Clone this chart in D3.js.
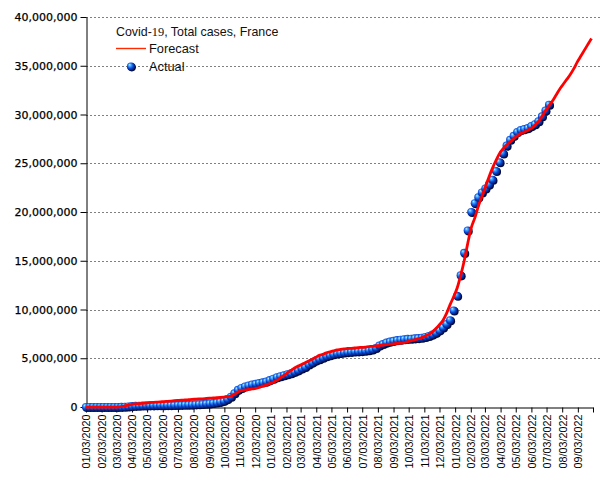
<!DOCTYPE html>
<html><head><meta charset="utf-8">
<script src="https://cdn.jsdelivr.net/npm/d3@7"></script>
<style>
html,body{margin:0;padding:0;background:#fff;}
svg{display:block;}
</style></head>
<body>
<svg id="chart" width="605" height="480"></svg>
<script>
// ---- data ----
const chartTitle = ["Covid-", "19", ", Total cases, France"];
const seriesNames = ["Forecast", "Actual"];
const firstWeek = "01/03/2020";           // weekly observations start here (MM/DD/YYYY)
const xTickLabels = ["01/03/2020","02/03/2020","03/03/2020","04/03/2020","05/03/2020","06/03/2020",
  "07/03/2020","08/03/2020","09/03/2020","10/03/2020","11/03/2020","12/03/2020",
  "01/03/2021","02/03/2021","03/03/2021","04/03/2021","05/03/2021","06/03/2021",
  "07/03/2021","08/03/2021","09/03/2021","10/03/2021","11/03/2021","12/03/2021",
  "01/03/2022","02/03/2022","03/03/2022","04/03/2022","05/03/2022","06/03/2022",
  "07/03/2022","08/03/2022","09/03/2022","10/03/2022"];
const yTicks = [0,5000000,10000000,15000000,20000000,25000000,30000000,35000000,40000000];
// weekly totals, millions of cases
const actualMillions = [0,0,0,0,0,0,0,0,0,0,
  0.005,0.02,0.05,0.08,0.11,0.13,0.145,0.155,0.16,0.165,
  0.17,0.175,0.18,0.185,0.19,0.2,0.205,0.21,0.22,0.23,
  0.24,0.26,0.28,0.3,0.33,0.36,0.4,0.45,0.52,0.62,
  0.8,1.05,1.4,1.75,1.95,2.1,2.2,2.3,2.37,2.45,
  2.52,2.6,2.75,2.9,3.05,3.15,3.25,3.35,3.45,3.6,
  3.75,3.95,4.1,4.35,4.55,4.75,4.9,5.05,5.2,5.3,
  5.4,5.48,5.53,5.58,5.62,5.65,5.68,5.7,5.73,5.76,
  5.82,5.9,6.05,6.3,6.45,6.6,6.7,6.78,6.85,6.9,
  6.95,6.98,7.0,7.03,7.06,7.1,7.18,7.28,7.42,7.6,
  7.85,8.15,8.5,8.9,9.9,11.4,13.5,15.8,18.1,20.0,
  20.9,21.5,22.0,22.4,22.8,23.3,24.2,25.1,26.0,26.8,
  27.4,27.8,28.2,28.4,28.5,28.6,28.8,29.0,29.3,29.8,
  30.4,31.0];
const forecastMillions = [0,0,0,0,0,0,0,0,0,0,
  0.05,0.12,0.2,0.28,0.32,0.35,0.38,0.41,0.44,0.47,
  0.5,0.53,0.55,0.58,0.61,0.64,0.67,0.7,0.72,0.75,
  0.78,0.8,0.82,0.84,0.87,0.9,0.93,0.96,0.99,1.02,
  1.05,1.12,1.3,1.55,1.68,1.75,1.8,1.85,1.9,2.0,
  2.15,2.25,2.4,2.55,2.75,3.0,3.25,3.5,3.75,4.0,
  4.2,4.35,4.55,4.72,4.9,5.1,5.3,5.4,5.55,5.65,
  5.75,5.85,5.9,5.95,6.0,6.02,6.05,6.1,6.12,6.15,
  6.2,6.22,6.27,6.32,6.36,6.4,6.44,6.48,6.52,6.55,
  6.6,6.7,6.8,6.9,7.0,7.12,7.28,7.45,7.7,8.05,
  8.45,8.9,9.6,10.5,11.3,12.2,13.5,15.0,16.8,18.4,
  19.4,20.6,21.6,22.6,23.6,24.5,25.3,26.0,26.5,26.9,
  27.2,27.5,27.8,28.05,28.2,28.4,28.6,28.9,29.3,29.8,
  30.4,30.9,31.4,32.0,32.6,33.1,33.6,34.1,34.7,35.4,
  36.0,36.6,37.2,37.8];

// ---- build ----
const parse = d3.timeParse("%m/%d/%Y");
const startDate = parse(firstWeek);
const weekDate = i => d3.timeDay.offset(startDate, 7 * i);
const actual = actualMillions.map((v, i) => ({date: weekDate(i), value: v * 1e6}));
const forecast = forecastMillions.map((v, i) => ({date: weekDate(i), value: v * 1e6}));
const tickDates = xTickLabels.map(parse);

const svg = d3.select("#chart");
const plotLeft = 86, plotRight = 593, plotTop = 17, plotBottom = 407;
const ballR = 4.1;

const x = d3.scaleTime().domain([tickDates[0], tickDates[tickDates.length - 1]]).range([plotLeft, plotRight]);
const y = d3.scaleLinear().domain([0, 40000000]).range([plotBottom, plotTop]);

const defs = svg.append("defs");
const grad = defs.append("radialGradient").attr("id", "ball")
  .attr("cx", "45%").attr("cy", "45%").attr("r", "60%")
  .attr("fx", "32%").attr("fy", "28%");
grad.append("stop").attr("offset", "0%").attr("stop-color", "#c4f0ff");
grad.append("stop").attr("offset", "25%").attr("stop-color", "#46a8ff");
grad.append("stop").attr("offset", "60%").attr("stop-color", "#0a48d8");
grad.append("stop").attr("offset", "100%").attr("stop-color", "#001050");

// gridlines
svg.append("g").selectAll("line").data(yTicks.filter(d => d > 0)).join("line")
  .attr("x1", plotLeft).attr("x2", 600)
  .attr("y1", d => Math.round(y(d)) + 0.5).attr("y2", d => Math.round(y(d)) + 0.5)
  .attr("stroke", "#808080").attr("stroke-width", 1).attr("stroke-dasharray", "2,2");

// y axis
const yAxis = svg.append("g").attr("transform", `translate(${plotLeft + 0.5},0)`)
  .call(d3.axisLeft(y).tickValues(yTicks).tickFormat(d3.format(",")).tickSize(6).tickSizeOuter(0));
yAxis.select(".domain").attr("stroke", "#000");
yAxis.selectAll(".tick line").attr("stroke", "#000");
yAxis.selectAll("text").attr("font-family", "DejaVu Sans").attr("font-size", 11).attr("fill", "#000")
  .attr("x", -9).attr("stroke", "#000").attr("stroke-width", 0.25);

// x axis
const xAxis = svg.append("g").attr("transform", `translate(0,${plotBottom + 0.5})`)
  .call(d3.axisBottom(x).tickValues(tickDates)
    .tickFormat((d, i) => i < xTickLabels.length - 1 ? xTickLabels[i] : "")
    .tickSize(5).tickSizeOuter(0));
xAxis.select(".domain").attr("stroke", "#000");
xAxis.selectAll(".tick line").attr("stroke", "#000");
xAxis.selectAll("text")
  .attr("font-family", "Liberation Sans").attr("font-size", 10.8).attr("fill", "#000")
  .attr("transform", "rotate(-90)").attr("text-anchor", "end")
  .attr("x", -7).attr("y", 0).attr("dy", "0.36em");

// actual points: dark shadow then shaded ball
const pts = svg.append("g");
pts.selectAll("circle.sh").data(actual).join("circle").attr("class", "sh")
  .attr("cx", d => x(d.date) + 0.9).attr("cy", d => y(d.value) + 0.9).attr("r", ballR)
  .attr("fill", "#000a3a");
pts.selectAll("circle.b").data(actual).join("circle").attr("class", "b")
  .attr("cx", d => x(d.date)).attr("cy", d => y(d.value)).attr("r", ballR)
  .attr("fill", "url(#ball)");

// forecast line
svg.append("path").datum(forecast)
  .attr("fill", "none").attr("stroke", "#ff0000").attr("stroke-width", 2.8)
  .attr("stroke-linejoin", "round")
  .attr("d", d3.line().x(d => x(d.date)).y(d => y(d.value)).curve(d3.curveMonotoneX));

// legend
const lg = svg.append("g");
const title = lg.append("text").attr("x", 116).attr("y", 36)
  .attr("font-family", "Liberation Sans").attr("font-size", 12.4).attr("fill", "#111");
title.append("tspan").text(chartTitle[0]);
title.append("tspan").attr("font-family", "Liberation Serif").text(chartTitle[1]);
title.append("tspan").text(chartTitle[2]);
lg.append("line").attr("x1", 116).attr("x2", 146).attr("y1", 48.5).attr("y2", 48.5)
  .attr("stroke", "#ff2a00").attr("stroke-width", 1.4);
lg.append("text").attr("x", 149).attr("y", 53).text(seriesNames[0])
  .attr("font-family", "Liberation Sans").attr("font-size", 12.8).attr("fill", "#111");
lg.append("circle").attr("cx", 131.8).attr("cy", 67.3).attr("r", ballR).attr("fill", "#000a3a");
lg.append("circle").attr("cx", 131).attr("cy", 66.5).attr("r", ballR).attr("fill", "url(#ball)");
lg.append("text").attr("x", 149).attr("y", 71).text(seriesNames[1])
  .attr("font-family", "Liberation Sans").attr("font-size", 12.8).attr("fill", "#111");
</script>
</body></html>
